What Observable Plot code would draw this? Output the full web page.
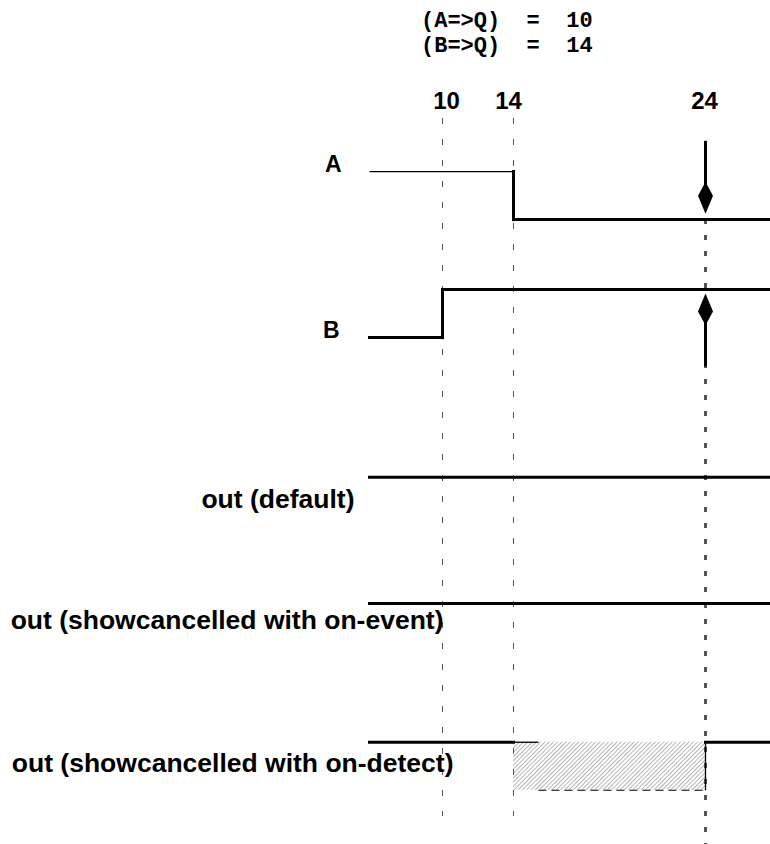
<!DOCTYPE html>
<html><head><meta charset="utf-8">
<script src="https://cdn.jsdelivr.net/npm/d3@7"></script>
<script src="https://cdn.jsdelivr.net/npm/@observablehq/plot@0.6"></script>
<style>
body{margin:0;background:#fff;}
#title{height:60px;box-sizing:border-box;padding:9px 0 0 421px;font:bold 22px/25px "Liberation Mono","Courier New",monospace;white-space:pre;color:#000;}
</style></head><body>
<div id="title"></div>
<div id="chart"></div>
<script>
// ---- data ----
const titleLines = ["(A=>Q)  =  10", "(B=>Q)  =  14"];
const eventTimes = [10, 14, 24];
const tickLabels = ["10", "14", "24"];
const guideTimes = [10, 14];
const markerTime = 24;
const tStart = 6, tEnd = 27;
const signals = ["A", "B", "out (default)", "out (showcancelled with on-event)", "out (showcancelled with on-detect)"];
const laneBase = [13.02, 10.56, 6.65, 4.02, 1.13];

const waveA = [
  {t1: tStart, v1: 1, t2: 14, v2: 1, kind: "thin"},
  {t1: 14, v1: 1, t2: 14, v2: 0, kind: "thick"},
  {t1: 14, v1: 0, t2: tEnd, v2: 0, kind: "thick"}
];
const waveB = [
  {t1: tStart, v1: 0, t2: 10, v2: 0, kind: "thick"},
  {t1: 10, v1: 0, t2: 10, v2: 1, kind: "thick"},
  {t1: 10, v1: 1, t2: tEnd, v2: 1, kind: "thick"}
];
const waveDefault = [{t1: tStart, v1: 1, t2: tEnd, v2: 1, kind: "thick"}];
const waveEvent = [{t1: tStart, v1: 1, t2: tEnd, v2: 1, kind: "thick"}];
const waveDetect = [
  {t1: tStart, v1: 1, t2: 14, v2: 1, kind: "thick"},
  {t1: 14, v1: 1, t2: 15.3, v2: 1, kind: "thin"},
  {t1: 15.3, v1: 0, t2: 24, v2: 0, kind: "dashed"},
  {t1: 24, v1: 1, t2: 24, v2: 0, kind: "thin"},
  {t1: 24, v1: 1, t2: tEnd, v2: 1, kind: "thick"}
];
const cancelled = [{signal: signals[4], t1: 14, t2: 24, v1: 0, v2: 1}];
const arrows = [
  {signal: "A", t: 24, v: 0, dir: "down"},
  {signal: "B", t: 24, v: 1, dir: "up"}
];

// ---- layout (not data) ----
// the drawing's time axis is not uniform: piecewise warp of time into drawing units
const warp = d3.scaleLinear().domain([tStart, 10, 14, 24, tEnd]).range([0, 73, 144, 336, 401]);
const labelLevel = [1, 0, 0.37, 0.48, 0.39];
const labelDx = [-28, -30, -15, 74, 84];
const labelSize = [23, 23, 26.5, 26.5, 26.5];
const tickDx = [4, -5, -1];
const tipGap = {down: 0.12, up: -0.08};
const shaftLen = 1.52;

document.getElementById("title").textContent = titleLines.join("\n");

const lane = Object.fromEntries(signals.map((s, i) => [s, laneBase[i]]));
const Y = (s, v) => lane[s] + v;
const tag = (arr, s) => arr.map(d => ({...d, signal: s}));
const segs = [
  ...tag(waveA, signals[0]), ...tag(waveB, signals[1]), ...tag(waveDefault, signals[2]),
  ...tag(waveEvent, signals[3]), ...tag(waveDetect, signals[4])
];
const arrowRows = arrows.map(d => {
  const tip = Y(d.signal, d.v) + (d.dir === "down" ? tipGap.down : tipGap.up);
  const sgn = d.dir === "down" ? 1 : -1;
  return {...d, tip, from: tip + sgn * shaftLen, to: tip + sgn * 0.3};
});

const kite = {
  draw(ctx) {
    ctx.moveTo(0, 0);
    ctx.lineTo(7.5, -18);
    ctx.lineTo(1.5, -29);
    ctx.lineTo(-1.5, -29);
    ctx.lineTo(-7.5, -18);
    ctx.closePath();
  }
};

const font = "'Liberation Sans', Arial, Helvetica, sans-serif";
const segMark = (kind, opts) => Plot.link(segs.filter(d => d.kind === kind), {
  x1: d => warp(d.t1), x2: d => warp(d.t2), y1: d => Y(d.signal, d.v1), y2: d => Y(d.signal, d.v2), stroke: "#000", ...opts
});

const svg = Plot.plot({
  width: 770,
  height: 784,
  margin: 0,
  style: {background: "white", overflow: "visible"},
  x: {domain: [warp(tStart), warp(tEnd)], range: [369, 770], axis: null},
  y: {domain: [0, 784 / 48], range: [784, 0], axis: null},
  marks: [
    Plot.rect(cancelled, {x1: d => warp(d.t1), x2: d => warp(d.t2), y1: d => Y(d.signal, d.v1), y2: d => Y(d.signal, d.v2), fill: "url(#hatch)"}),
    Plot.ruleX(guideTimes, {x: d => warp(d), stroke: "#555", strokeWidth: 1, strokeDasharray: "6,15", insetTop: 58, insetBottom: 28}),
    Plot.ruleX([markerTime], {x: d => warp(d), stroke: "#555", strokeWidth: 3, strokeDasharray: "5,11", insetTop: 159}),
    segMark("thick", {strokeWidth: 3, strokeLinecap: "square"}),
    segMark("thin", {strokeWidth: 1.3}),
    segMark("dashed", {strokeWidth: 1.2, strokeDasharray: "8,5"}),
    Plot.link(arrowRows, {x1: d => warp(d.t), x2: d => warp(d.t), y1: "from", y2: "to", stroke: "#000", strokeWidth: 3}),
    Plot.dot(arrowRows, {x: d => warp(d.t), y: "tip", symbol: kite, r: 10, fill: "#000", stroke: "none", rotate: d => d.dir === "up" ? 180 : 0}),
    ...tickLabels.map((s, i) => Plot.text([s], {
      x: () => warp(eventTimes[i]), text: d => d, frameAnchor: "top", lineAnchor: "bottom", dy: 48, dx: tickDx[i],
      fontSize: 24, fontWeight: "bold", fontFamily: font, fill: "#000"
    })),
    ...signals.map((s, i) => Plot.text([s], {
      x: () => warp(tStart), y: () => laneBase[i] + labelLevel[i], text: d => d, textAnchor: "end", lineAnchor: "bottom",
      dx: labelDx[i], fontSize: labelSize[i], fontWeight: "bold", fontFamily: font, fill: "#000"
    }))
  ]
});

const defs = d3.select(svg).insert("defs", ":first-child");
const pat = defs.append("pattern").attr("id", "hatch").attr("patternUnits", "userSpaceOnUse")
  .attr("width", 3).attr("height", 3).attr("patternTransform", "rotate(45)");
pat.append("rect").attr("width", 3).attr("height", 3).attr("fill", "#fff");
pat.append("line").attr("x1", 0).attr("y1", 0).attr("x2", 0).attr("y2", 3).attr("stroke", "#777").attr("stroke-width", 1.1);

document.getElementById("chart").appendChild(svg);
</script>
</body></html>
